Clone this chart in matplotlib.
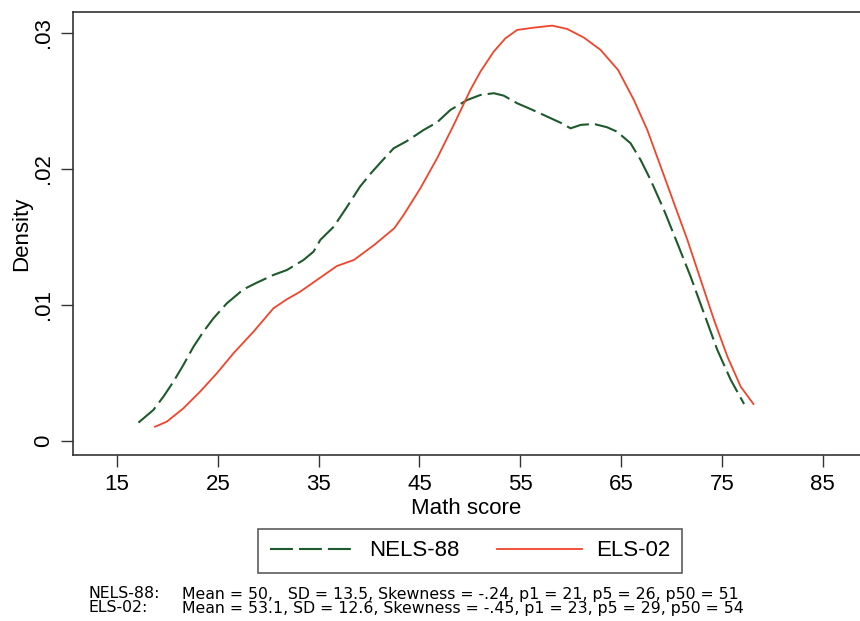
import matplotlib
matplotlib.use("Agg")
import matplotlib.pyplot as plt
from matplotlib.lines import Line2D

plt.rcParams['font.family'] = ['Liberation Sans', 'DejaVu Sans']

# NELS-88 density curve
nels_x = [17.12, 18.60, 19.60, 20.59, 21.58, 22.58, 23.57, 24.56, 25.89, 27.54, 28.87, 30.52,
          31.85, 33.50, 34.49, 35.16, 36.50, 37.80, 39.10, 40.20, 41.28, 42.44, 43.77, 45.42,
          46.75, 48.07, 49.73, 51.05, 52.37, 53.36, 54.69, 56.01, 57.67, 58.99, 59.99, 61.00,
          62.30, 63.60, 64.60, 65.94, 66.94, 67.93, 69.25, 70.58, 71.90, 73.22, 74.55, 75.88,
          77.20]
nels_y = [0.00135, 0.00228, 0.00326, 0.00436, 0.00559, 0.00693, 0.00804, 0.00902, 0.01012,
          0.01115, 0.01164, 0.01221, 0.01257, 0.01331, 0.01392, 0.01478, 0.01576, 0.01720,
          0.01870, 0.01970, 0.02059, 0.02152, 0.02206, 0.02287, 0.02343, 0.02434, 0.02507,
          0.02544, 0.02557, 0.02539, 0.02483, 0.02441, 0.02385, 0.02340, 0.02299, 0.02324,
          0.02331, 0.02307, 0.02274, 0.02189, 0.02066, 0.01919, 0.01699, 0.01454, 0.01208,
          0.00939, 0.00669, 0.00449, 0.00272]

# ELS-02 density curve
els_x = [18.77, 19.93, 21.58, 23.24, 24.90, 26.55, 28.54, 30.52, 31.85, 33.17, 34.83, 36.82,
         38.50, 40.50, 42.50, 43.43, 45.09, 46.75, 48.40, 50.05, 51.05, 52.37, 53.53, 54.69,
         56.34, 58.17, 59.66, 61.31, 62.97, 64.70, 66.27, 67.60, 68.93, 70.25, 71.58, 72.90,
         74.22, 75.55, 76.87, 78.13]
els_y = [0.00105, 0.00142, 0.00240, 0.00363, 0.00498, 0.00645, 0.00804, 0.00976, 0.01042,
         0.01098, 0.01184, 0.01287, 0.01331, 0.01441, 0.01564, 0.01662, 0.01858, 0.02079,
         0.02324, 0.02581, 0.02716, 0.02863, 0.02961, 0.03022, 0.03039, 0.03054, 0.03029,
         0.02966, 0.02875, 0.02728, 0.02507, 0.02287, 0.02017, 0.01748, 0.01478, 0.01184,
         0.00890, 0.00620, 0.00399, 0.00272]

x_ticks = [15, 25, 35, 45, 55, 65, 75, 85]
y_ticks = [0, 0.01, 0.02, 0.03]
y_tick_labels = ["0", ".01", ".02", ".03"]

series_names = ["NELS-88", "ELS-02"]
note_labels = ["NELS-88:", "ELS-02:"]
note_stats = ["Mean = 50,   SD = 13.5, Skewness = -.24, p1 = 21, p5 = 26, p50 = 51",
              "Mean = 53.1, SD = 12.6, Skewness = -.45, p1 = 23, p5 = 29, p50 = 54"]

green = "#1d5a2c"
red = "#f2442a"
W, H = 860, 621

fig = plt.figure(figsize=(W/100, H/100), dpi=100)
ax = fig.add_axes([73/W, 1-455/H, (W-73)/W, (455-12)/H])

ax.plot(nels_x, nels_y, color=green, lw=1.5, dashes=(11, 2.9), label=series_names[0])
ax.plot(els_x, els_y, color=red, lw=1.3, label=series_names[1])

ax.set_xlim(10.63, 88.7)
ax.set_ylim(-0.00103, 0.03154)
ax.set_xticks(x_ticks)
ax.set_xticklabels([str(v) for v in x_ticks], fontsize=16)
ax.set_yticks(y_ticks)
ax.set_yticklabels(y_tick_labels, fontsize=16, rotation=90, va='center')
ax.tick_params(direction='out', length=8.5, width=1, colors='#333333', labelcolor='black', pad=5)
ax.spines['right'].set_visible(False)
for s in ['left', 'bottom', 'top']:
    ax.spines[s].set_linewidth(1.2)
    ax.spines[s].set_color('#333333')

ax.set_xlabel("Math score", fontsize=16, labelpad=2)
ax.set_ylabel("Density", fontsize=16, labelpad=1)

handles = [Line2D([], [], color=green, lw=1.5, dashes=(11, 2.9)),
           Line2D([], [], color=red, lw=1.3)]
leg = fig.legend(handles, series_names, loc='center',
                 bbox_to_anchor=(470/W, 1-551/H), ncol=2, fontsize=16,
                 frameon=True, fancybox=False, edgecolor='#333333',
                 handlelength=3.83, handletextpad=0.63, columnspacing=1.71,
                 borderpad=0.5, borderaxespad=0)
leg.get_frame().set_linewidth(1.2)

note_font = ['DejaVu Sans']
baselines = [598.5, 612.5]
labels_t = []
stats_t = []
for lab, st, yb in zip(note_labels, note_stats, baselines):
    labels_t.append(fig.text(88/W, 1-yb/H, lab, fontsize=11, va='baseline', ha='left',
                             family=note_font))
    stats_t.append(fig.text(182/W, 1-yb/H, st, fontsize=11, va='baseline', ha='left',
                            family=note_font))

# fit the stats text width to the span seen in the reference (182 -> 741 px)
fig.canvas.draw()
r = fig.canvas.get_renderer()
w0 = stats_t[0].get_window_extent(r).width
fs = 11 * (741 - 182) / w0
fs = min(fs, 12.0)
for t in labels_t + stats_t:
    t.set_fontsize(fs)

fig.savefig("out.png", dpi=100)
